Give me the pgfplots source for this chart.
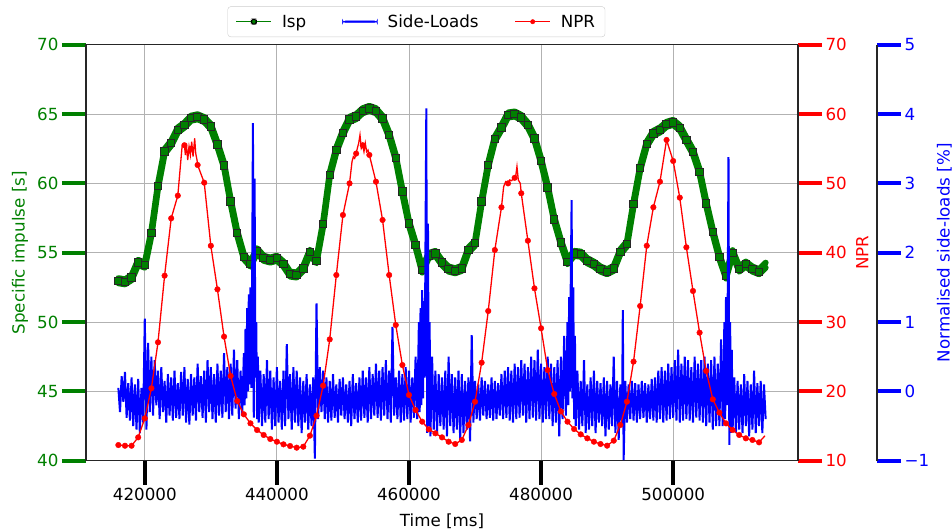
\documentclass[border=0pt]{standalone}
\usepackage{pgfplots}
\usepackage{pgfplotstable}
\pgfplotsset{compat=1.18}
\usepackage{fontspec}
\setmainfont{DejaVu Sans}

\definecolor{mplgreen}{RGB}{0,128,0}
\definecolor{mplred}{RGB}{255,0,0}
\definecolor{mplblue}{RGB}{0,0,255}

% Isp, one value per second (marker positions)
\pgfplotstableread{
t v
416000 52.98
417000 52.90
418000 53.20
419000 54.30
420000 54.10
421000 56.40
422000 59.80
423000 62.30
424000 62.90
425000 63.85
426000 64.20
427000 64.70
428000 64.80
429000 64.60
430000 64.10
431000 62.80
432000 61.30
433000 58.70
434000 56.40
435000 54.71
436000 54.18
437000 55.14
438000 54.60
439000 54.47
440000 54.60
441000 54.18
442000 53.46
443000 53.39
444000 53.87
445000 55.03
446000 54.42
447000 57.05
448000 60.60
449000 62.41
450000 63.65
451000 64.62
452000 64.81
453000 65.24
454000 65.41
455000 65.24
456000 64.69
457000 63.49
458000 61.85
459000 59.40
460000 57.12
461000 55.56
462000 53.75
463000 54.80
464000 54.95
465000 54.28
466000 53.82
467000 53.70
468000 53.87
469000 55.19
470000 55.68
471000 58.68
472000 61.33
473000 63.20
474000 64.02
475000 64.93
476000 65.00
477000 64.76
478000 64.20
479000 63.25
480000 61.63
481000 59.69
482000 57.40
483000 55.75
484000 54.35
485000 54.95
486000 54.90
487000 54.42
488000 54.18
489000 53.82
490000 53.63
491000 53.87
492000 55.07
493000 55.63
494000 58.51
495000 61.09
496000 62.84
497000 63.61
498000 63.85
499000 64.26
500000 64.40
501000 64.01
502000 63.13
503000 62.28
504000 60.84
505000 58.56
506000 56.51
507000 54.71
508000 53.32
509000 55.00
510000 53.82
511000 54.18
512000 53.82
513000 53.63
}\isp

% NPR at the marker positions
\pgfplotstableread{
t v
416000 12.26
417000 12.16
418000 12.16
419000 13.37
420000 16.11
421000 20.44
422000 27.08
423000 36.69
424000 44.96
425000 48.23
426000 55.50
427000 55.00
428000 52.65
429000 50.10
430000 41.00
431000 34.72
432000 27.89
433000 22.22
434000 18.61
435000 16.69
436000 15.39
437000 14.43
438000 13.71
439000 13.13
440000 12.74
441000 12.36
442000 12.12
443000 11.88
444000 12.02
445000 13.61
446000 16.49
447000 20.82
448000 27.50
449000 36.78
450000 45.44
451000 50.00
452000 54.30
453000 55.50
454000 54.10
455000 50.24
456000 44.72
457000 36.78
458000 29.57
459000 23.80
460000 19.48
461000 17.31
462000 15.63
463000 14.53
464000 13.95
465000 13.37
466000 12.74
467000 12.41
468000 12.99
469000 15.15
470000 18.51
471000 24.14
472000 31.59
473000 40.39
474000 46.55
475000 50.00
476000 50.80
477000 48.57
478000 41.73
479000 34.86
480000 29.10
481000 23.08
482000 19.62
483000 17.10
484000 15.63
485000 14.57
486000 13.80
487000 13.23
488000 12.74
489000 12.41
490000 12.17
491000 12.89
492000 15.15
493000 18.51
494000 24.29
495000 32.31
496000 41.00
497000 46.55
498000 50.24
499000 56.26
500000 53.23
501000 47.94
502000 40.78
503000 34.48
504000 28.47
505000 22.94
506000 18.85
507000 16.93
508000 15.39
509000 14.43
510000 13.71
511000 13.23
512000 12.99
513000 12.65
}\npr

% NPR line, with the noisy peaks
\pgfplotstableread{
t v
416000 12.26
417000 12.16
418000 12.16
419000 13.37
420000 16.11
421000 20.44
422000 27.08
423000 36.69
424000 44.96
425000 48.23
425645 55.29
425896 55.53
426000 55.50
426148 54.09
426299 55.77
426500 53.37
426702 55.29
426903 54.09
427000 55.00
427104 56.01
427306 53.85
427557 56.50
427708 54.34
427910 53.37
428000 52.65
429000 50.10
430000 41.00
431000 34.72
432000 27.89
433000 22.22
434000 18.61
435000 16.69
436000 15.39
437000 14.43
438000 13.71
439000 13.13
440000 12.74
441000 12.36
442000 12.12
443000 11.88
444000 12.02
445000 13.61
446000 16.49
447000 20.82
448000 27.50
449000 36.78
450000 45.44
451000 50.00
451174 51.45
451375 53.13
451576 53.85
451778 53.61
452000 54.30
452180 55.06
452382 55.78
452583 56.98
452784 55.06
453000 55.50
453187 54.57
453388 55.78
453590 54.57
453791 54.81
454000 54.10
455000 50.24
456000 44.72
457000 36.78
458000 29.57
459000 23.80
460000 19.48
461000 17.31
462000 15.63
463000 14.53
464000 13.95
465000 13.37
466000 12.74
467000 12.41
468000 12.99
469000 15.15
470000 18.51
471000 24.14
472000 31.59
473000 40.39
474000 46.55
474335 49.52
474637 50.24
475000 50.00
475242 50.49
475544 50.39
475846 50.73
476000 50.80
476148 50.97
476349 52.41
476551 50.49
476853 50.00
477000 48.57
478000 41.73
479000 34.86
480000 29.10
481000 23.08
482000 19.62
483000 17.10
484000 15.63
485000 14.57
486000 13.80
487000 13.23
488000 12.74
489000 12.41
490000 12.17
491000 12.89
492000 15.15
493000 18.51
494000 24.29
495000 32.31
496000 41.00
497000 46.55
498000 50.24
499000 56.26
500000 53.23
501000 47.94
502000 40.78
503000 34.48
504000 28.47
505000 22.94
506000 18.85
507000 16.93
508000 15.39
509000 14.43
510000 13.71
511000 13.23
512000 12.99
513000 12.65
513900 13.60
}\nprline

% normalised side-loads
\pgfplotstableread{
t v
416000 0.05
416250 -0.30
416500 0.22
416750 -0.15
417000 0.28
417250 -0.38
417500 0.12
417750 -0.42
418000 0.20
418250 -0.50
418500 0.10
418750 -0.55
419000 0.18
419250 -0.60
419500 0.05
419750 -0.45
420000 1.05
420250 -0.55
420500 0.70
420750 -0.30
421000 0.50
421250 -0.35
421500 0.45
421750 -0.20
422000 0.30
422250 -0.40
422500 0.35
422750 -0.30
423000 0.15
423250 -0.45
423500 0.25
423750 -0.35
424000 0.20
424250 -0.42
424500 0.30
424750 -0.38
425000 0.12
425250 -0.40
425500 0.28
425750 -0.35
426000 0.35
426250 -0.45
426500 0.18
426750 -0.48
427000 0.25
427250 -0.35
427500 0.20
427750 -0.42
428000 0.40
428250 -0.30
428500 0.22
428750 -0.38
429000 0.30
429250 -0.45
429500 0.45
429750 -0.30
430000 0.35
430250 -0.40
430500 0.25
430750 -0.45
431000 0.40
431250 -0.35
431500 0.30
431750 -0.38
432000 0.55
432250 -0.30
432500 0.35
432750 -0.40
433000 0.40
433250 -0.35
433500 0.60
433750 -0.25
434000 0.45
434250 -0.40
434500 0.30
434750 -0.35
435000 0.55
435125 -0.20
435250 0.90
435375 -0.10
435500 1.20
435625 0.00
435750 1.40
435875 0.10
436000 1.50
436125 0.05
436250 1.45
436375 3.87
436500 -0.38
436625 3.07
436750 0.20
436875 1.00
437000 -0.40
437125 0.50
437250 -0.45
437500 0.30
437750 -0.50
438000 0.25
438250 -0.45
438500 0.45
438750 -0.40
439000 0.30
439250 -0.55
439500 0.20
439750 -0.50
440000 0.35
440250 -0.45
440500 0.15
440750 -0.55
441000 0.30
441250 -0.50
441500 0.68
441750 -0.40
442000 0.25
442250 -0.55
442500 0.35
442750 -0.45
443000 0.30
443250 -0.50
443500 0.20
443750 -0.60
444000 0.15
444250 -0.45
444500 0.25
444750 -0.55
445000 0.10
445250 -0.50
445500 0.20
445750 -0.97
446000 1.27
446250 -0.40
446500 0.35
446750 -0.30
447000 0.30
447250 -0.40
447500 0.20
447750 -0.45
448000 0.15
448250 -0.42
448500 0.25
448750 -0.38
449000 0.10
449250 -0.45
449500 0.18
449750 -0.35
450000 0.20
450250 -0.40
450500 0.10
450750 -0.45
451000 0.15
451250 -0.50
451500 0.25
451750 -0.40
452000 0.12
452250 -0.45
452500 0.20
452750 -0.42
453000 0.30
453250 -0.38
453500 0.20
453750 -0.45
454000 0.35
454250 -0.40
454500 0.25
454750 -0.35
455000 0.40
455250 -0.38
455500 0.30
455750 -0.42
456000 0.35
456250 -0.35
456500 0.45
456750 -0.40
457000 0.30
457250 -0.45
457500 0.93
457750 -0.35
458000 0.20
458250 -0.40
458500 0.30
458750 -0.45
459000 0.25
459250 -0.42
459500 0.35
459750 -0.40
460000 0.30
460250 -0.45
460500 0.20
460750 -0.38
461000 0.50
461250 -0.40
461500 1.00
461625 -0.30
461750 1.20
461875 -0.20
462000 1.46
462125 -0.10
462250 1.30
462375 0.20
462500 2.14
462625 4.08
462750 -0.60
462875 2.42
463000 -0.50
463125 1.00
463250 -0.65
463500 0.50
463750 -0.55
464000 0.30
464250 -0.60
464500 0.25
464750 -0.50
465000 0.20
465250 -0.55
465500 0.30
465750 -0.65
466000 0.50
466250 -0.50
466500 0.25
466750 -0.60
467000 0.20
467250 -0.55
467500 0.30
467750 -0.70
468000 0.25
468250 -0.60
468500 0.15
468750 -0.55
469000 0.20
469250 -0.72
469500 0.81
469750 -0.45
470000 0.15
470250 -0.40
470500 0.10
470750 -0.42
471000 0.20
471250 -0.35
471500 0.15
471750 -0.40
472000 0.10
472250 -0.38
472500 0.20
472750 -0.42
473000 0.15
473250 -0.40
473500 0.12
473750 -0.35
474000 0.25
474250 -0.40
474500 0.30
474750 -0.38
475000 0.35
475250 -0.42
475500 0.30
475750 -0.45
476000 0.40
476250 -0.40
476500 0.35
476750 -0.38
477000 0.45
477250 -0.35
477500 0.40
477750 -0.45
478000 0.35
478250 -0.40
478500 0.50
478750 -0.38
479000 0.45
479250 -0.42
479500 0.60
479750 -0.40
480000 0.40
480250 -0.45
480500 0.35
480750 -0.40
481000 0.50
481250 -0.40
481500 0.40
481750 -0.50
482000 0.35
482250 -0.45
482500 0.45
482750 -0.65
483000 0.50
483250 -0.40
483500 0.80
483750 -0.35
484000 1.00
484125 -0.20
484250 1.36
484375 0.00
484500 1.65
484625 2.76
484750 -0.10
484875 1.50
485000 -0.40
485125 0.80
485250 -0.50
485500 0.30
485750 -0.55
486000 0.15
486250 -0.50
486500 0.45
486750 -0.60
487000 0.10
487250 -0.55
487500 0.20
487750 -0.50
488000 0.30
488250 -0.60
488500 0.15
488750 -0.45
489000 0.12
489250 -0.50
489500 0.20
489750 -0.65
490000 0.15
490250 -0.55
490500 0.10
490750 -0.50
491000 0.50
491250 -0.60
491500 0.15
491750 -0.70
492000 0.10
492250 -0.50
492375 1.17
492500 -0.99
492750 0.15
493000 -0.45
493250 0.10
493500 -0.40
493750 0.15
494000 -0.42
494250 0.12
494500 -0.45
494750 0.10
495000 -0.40
495250 0.15
495500 -0.38
495750 0.12
496000 -0.45
496250 0.10
496500 -0.40
496750 0.18
497000 -0.42
497250 0.20
497500 -0.45
497750 0.30
498000 -0.40
498250 0.35
498500 -0.45
498750 0.30
499000 -0.42
499250 0.40
499500 -0.40
499750 0.35
500000 -0.38
500250 0.45
500500 -0.42
500750 0.60
501000 -0.45
501250 0.40
501500 -0.42
501750 0.50
502000 -0.40
502250 0.45
502500 -0.42
502750 0.35
503000 -0.45
503250 0.50
503500 -0.38
503750 0.40
504000 -0.42
504250 0.45
504500 -0.45
504750 0.50
505000 -0.50
505250 0.40
505500 -0.45
505750 0.45
506000 -0.55
506250 0.50
506500 -0.50
506750 0.40
507000 -0.50
507250 0.75
507500 -0.50
507750 1.00
507875 -0.40
508000 1.36
508125 -0.20
508250 1.20
508375 3.38
508500 -0.77
508625 1.00
508750 -0.60
508875 0.60
509000 -0.55
509250 0.20
509500 -0.60
509750 0.15
510000 -0.55
510250 0.10
510500 -0.60
510750 0.25
511000 -0.50
511250 0.15
511500 -0.65
511750 0.10
512000 -0.55
512250 0.30
512500 -0.60
512750 0.12
513000 -0.50
513250 0.15
513500 -0.60
513750 0.10
514000 -0.40
}\sideloads

\pgfplotsset{
  common/.style={
    scale only axis,
    height=416pt,
    xmin=411100,
    scaled ticks=false,
    /pgf/number format/assume math mode=true,
    /pgf/number format/1000 sep={},
    axis line style={-, black!85, line width=1.2pt},
    tick label style={font=\fontsize{16.7}{20}\selectfont},
    label style={font=\fontsize{16.7}{20}\selectfont},
  },
  rightaxis/.style={
    axis y line=right, axis x line=none,
    every outer y axis line/.append style={-},
    tick align=outside, major tick length=24pt,
  },
  band/.style={draw=mplgreen, line width=6pt, line join=round, line cap=round, forget plot},
}

\begin{document}
\begin{tikzpicture}[font=\fontsize{16.7}{20}\selectfont]

% specific impulse, left axis
\begin{axis}[common,
  width=712pt, xmax=518900,
  ymin=40, ymax=70,
  tick align=outside, major tick length=24pt,
  xtick={420000,440000,460000,480000,500000},
  xticklabels={420000,440000,460000,480000,500000},
  ytick={40,45,50,55,60,65,70},
  yticklabels={40,45,50,55,60,65,70},
  xtick pos=bottom, ytick pos=left,
  grid=major,
  grid style={color=black!30, line width=0.8pt},
  x tick style={black, line width=4pt},
  y tick style={mplgreen, line width=4pt},
  yticklabel style={mplgreen},
  xlabel={Time [ms]},
  xlabel style={at={(axis description cs:0.5,-0.1587)}, anchor=base},
  ylabel={Specific impulse [s]},
  ylabel style={mplgreen, at={(axis description cs:-0.0925,0.5)}, anchor=center},
]
\addplot[band, yshift=2.5pt] table {\isp};
\addplot[band, yshift=-2.5pt] table {\isp};
\addplot[band, yshift=2.5pt] coordinates {(513000,53.63) (514000,54.1)};
\addplot[band, yshift=-2.5pt] coordinates {(513000,53.63) (514000,54.1)};
\addplot[only marks, mark=square*, mark size=3.7pt,
  mark options={fill=mplgreen, draw=black!85, line width=1pt}, forget plot] table {\isp};
\end{axis}

% side-loads, outer right axis
\begin{axis}[common, rightaxis,
  width=791pt, xmax=530861,
  ymin=-1, ymax=5,
  ytick={-1,0,1,2,3,4,5},
  yticklabels={−1,0,1,2,3,4,5},
  y tick style={mplblue, line width=4pt},
  yticklabel style={mplblue},
  ylabel={Normalised side-loads [\%]},
  ylabel style={mplblue, at={(axis description cs:1.0853,0.5)}, anchor=center},
]
\addplot[draw=mplblue, line width=2pt, forget plot] table {\sideloads};
\end{axis}

% NPR, inner right axis
\begin{axis}[common, rightaxis,
  width=712pt, xmax=518900,
  ymin=10, ymax=70,
  ytick={10,20,30,40,50,60,70},
  yticklabels={10,20,30,40,50,60,70},
  y tick style={mplred, line width=4pt},
  yticklabel style={mplred},
  ylabel={NPR},
  ylabel style={mplred, at={(axis description cs:1.0902,0.5)}, anchor=center},
  legend columns=3,
  legend style={
    at={(0.464,1.0185)}, anchor=south,
    draw=black!20, rounded corners=3pt, fill=white,
    inner xsep=8pt, inner ysep=6pt,
    /tikz/every odd column/.append style={column sep=8pt},
    /tikz/every even column/.append style={column sep=34pt},
  },
]
\addlegendimage{legend image code/.code={
  \draw[mplgreen, line width=1.3pt] (0pt,0pt) -- (35pt,0pt);
  \draw[fill=mplgreen, draw=black, line width=0.8pt] (15pt,-2.6pt) rectangle (20pt,2.6pt);}}
\addlegendentry{Isp}
\addlegendimage{legend image code/.code={
  \fill[mplblue] (0pt,-0.8pt) rectangle (35pt,0.8pt);}}
\addlegendentry{Side-Loads}
\addlegendimage{legend image code/.code={
  \draw[mplred, line width=1.3pt] (0pt,0pt) -- (35pt,0pt);
  \fill[mplred] (17.5pt,0pt) circle (2.2pt);}}
\addlegendentry{NPR}
\addplot[mplred, line width=1.3pt, forget plot] table {\nprline};
\addplot[only marks, mark=*, mark size=2.8pt, mplred, forget plot] table {\npr};
\end{axis}

\pgfresetboundingbox
\useasboundingbox (-86pt,-70.3pt) rectangle (866pt,460.7pt);
\end{tikzpicture}
\end{document}
